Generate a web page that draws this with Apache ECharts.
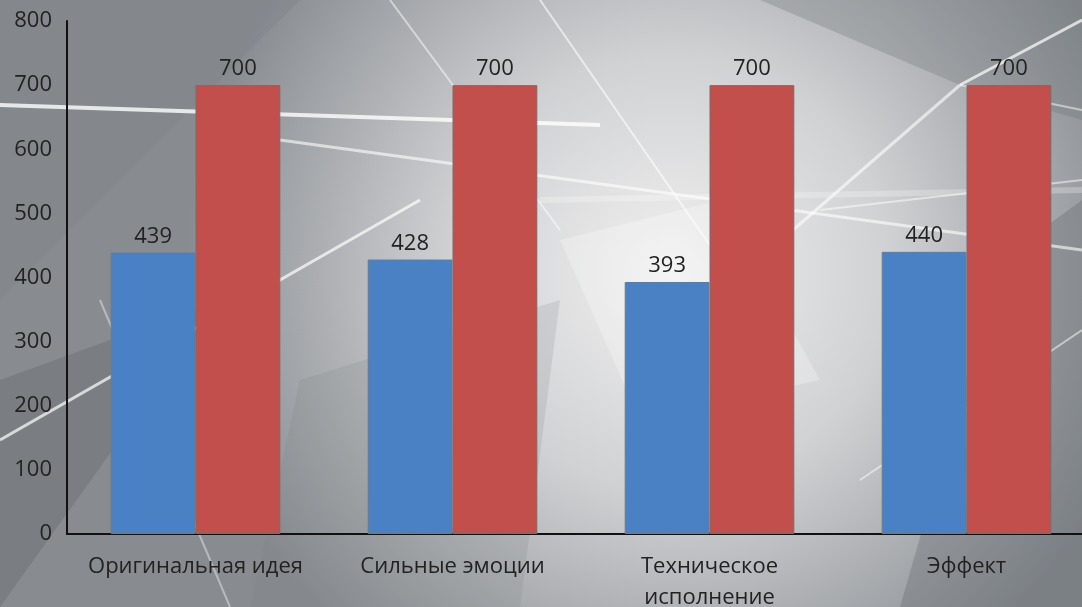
<!DOCTYPE html>
<html>
<head>
<meta charset="utf-8">
<script src="https://cdn.jsdelivr.net/npm/echarts@6/dist/echarts.min.js"></script>
<style>html,body{margin:0;padding:0;}#c{width:1082px;height:607px;}</style>
</head>
<body>
<div id="c"></div>
<script>
const categories = ['Оригинальная идея', 'Сильные эмоции', 'Техническое\nисполнение', 'Эффект'];
const seriesA = [439, 428, 393, 440];
const seriesB = [700, 700, 700, 700];
const yTicks = [0, 100, 200, 300, 400, 500, 600, 700, 800];

const chart = echarts.init(document.getElementById('c'));
function ln(x1, y1, x2, y2, w, op) {
  return { type: 'line', silent: true, z: -10,
    shape: { x1: x1, y1: y1, x2: x2, y2: y2 },
    style: { stroke: 'rgba(255,255,255,' + op + ')', lineWidth: w } };
}
function poly(pts, fill) {
  return { type: 'polygon', silent: true, z: -20, shape: { points: pts }, style: { fill: fill } };
}
const deco = [
  poly([[0,0],[300,0],[0,300]], 'rgba(120,125,130,0.25)'),
  poly([[0,380],[220,300],[0,607]], 'rgba(90,95,100,0.30)'),
  poly([[760,0],[1082,0],[1082,120],[960,85]], 'rgba(110,115,120,0.30)'),
  poly([[1000,260],[1082,200],[1082,607],[900,607]], 'rgba(100,105,112,0.35)'),
  poly([[560,240],[720,200],[820,380],[640,420]], 'rgba(255,255,255,0.25)'),
  poly([[300,380],[560,300],[520,607],[250,607]], 'rgba(120,125,130,0.18)'),
  ln(0, 105, 600, 125, 4, 0.8),
  ln(280, 140, 1082, 250, 3, 0.6),
  ln(0, 440, 420, 200, 3, 0.7),
  ln(540, 0, 720, 260, 2, 0.6),
  ln(960, 85, 1082, 20, 3, 0.7),
  ln(960, 85, 770, 250, 3, 0.6),
  ln(820, 210, 1082, 180, 2, 0.5),
  ln(390, 0, 560, 230, 2, 0.5),
  ln(1082, 110, 960, 85, 2, 0.5),
  ln(860, 480, 1082, 330, 2, 0.5),
  ln(540, 200, 1082, 190, 6, 0.25),
  ln(100, 300, 230, 607, 2, 0.4)
];

chart.setOption({
  backgroundColor: {
    type: 'radial', x: 0.62, y: 0.45, r: 0.8,
    colorStops: [
      { offset: 0, color: '#f0f0f0' },
      { offset: 0.45, color: '#d0d1d3' },
      { offset: 1, color: '#888c91' }
    ]
  },
  graphic: deco,
  textStyle: { fontFamily: 'Open Sans' },
  grid: { left: 67, top: 21, right: -13, bottom: 73, containLabel: false, outerBoundsMode: 'none' },
  xAxis: {
    type: 'category',
    data: categories,
    axisLine: { show: true, lineStyle: { color: '#111', width: 2 } },
    axisTick: { show: false },
    axisLabel: { color: '#222', fontSize: 22, margin: 17, lineHeight: 31, interval: 0 }
  },
  yAxis: {
    type: 'value',
    min: yTicks[0], max: yTicks[yTicks.length - 1], interval: 100,
    axisLine: { show: true, lineStyle: { color: '#111', width: 2 } },
    axisTick: { show: false },
    splitLine: { show: false },
    axisLabel: { color: '#222', fontSize: 22, margin: 15 }
  },
  series: [
    {
      type: 'bar', data: seriesA, barGap: '0%', barCategoryGap: '34%',
      itemStyle: { color: '#4a80c4', borderColor: '#6f7a85', borderWidth: 1 },
      label: { show: true, position: 'top', distance: 5, color: '#222', fontSize: 22 }
    },
    {
      type: 'bar', data: seriesB, barGap: '0%', barCategoryGap: '34%',
      itemStyle: { color: '#c24f4c', borderColor: '#7a6a6a', borderWidth: 1 },
      label: { show: true, position: 'top', distance: 5, color: '#222', fontSize: 22 }
    }
  ]
});
</script>
</body>
</html>
